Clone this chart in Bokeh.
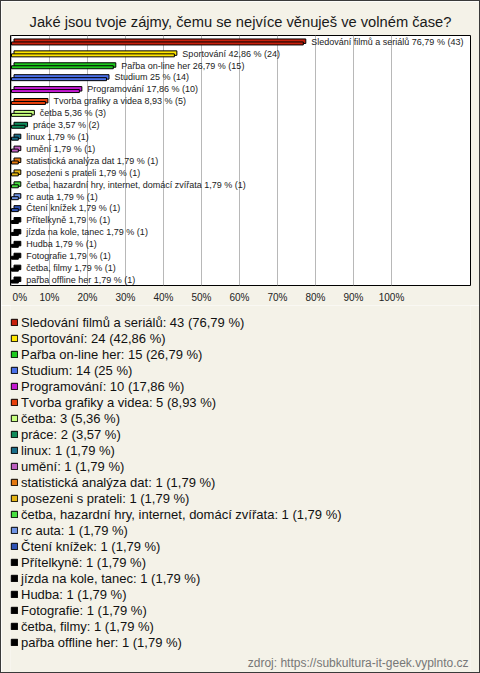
from bokeh.plotting import figure
from bokeh.layouts import column
from bokeh.models import (Range1d, FixedTicker, PrintfTickFormatter, ColumnDataSource,
                          Legend, LegendItem, Label)
from bokeh.core.properties import field, value
from bokeh.embed import file_html
from bokeh.resources import INLINE

# ---------------- data ----------------
title_text = "Jaké jsou tvoje zájmy, čemu se nejvíce věnuješ ve volném čase?"
names = ["Sledování filmů a seriálů", "Sportování", "Pařba on-line her", "Studium",
         "Programování", "Tvorba grafiky a videa", "četba", "práce", "linux", "umění",
         "statistická analýza dat", "posezeni s prateli",
         "četba, hazardní hry, internet, domácí zvířata", "rc auta", "Čtení knížek",
         "Přítelkyně", "jízda na kole, tanec", "Hudba", "Fotografie", "četba, filmy",
         "pařba offline her"]
counts = [43, 24, 15, 14, 10, 5, 3, 2, 1, 1, 1, 1, 1, 1, 1, 1, 1, 1, 1, 1, 1]
percents = [76.79, 42.86, 26.79, 25, 17.86, 8.93, 5.36, 3.57, 1.79, 1.79, 1.79, 1.79,
            1.79, 1.79, 1.79, 1.79, 1.79, 1.79, 1.79, 1.79, 1.79]
colors = ["#c8200c", "#ffe600", "#1ec81e", "#4a70e8", "#c41ad2", "#e8400c", "#c8ff80",
          "#108a5a", "#1a6e8a", "#be60c0", "#e47810", "#e4b414", "#48e040", "#7094e4",
          "#2e52b4", "#000000", "#000000", "#000000", "#000000", "#000000", "#000000"]
x_ticks = [0, 10, 20, 30, 40, 50, 60, 70, 80, 90, 100]
source_text = "zdroj: https://subkultura-it-geek.vyplnto.cz"

FONT = "Liberation Sans"
BG = "#f4f2e8"

# ---------------- geometry helpers ----------------
W, H = 478, 671                # inside a 1px outer border
TOP_H = 304
BOT_H = H - TOP_H
FRAME_L, FRAME_T = 9, 34
FRAME_W, FRAME_H = 460, 251
PXX = 3.8                      # pixels per percent
X0 = -1.0 / PXX
n = len(names)
PXY = FRAME_H / n              # pixels per category
dx = 2.5 / PXX
py = 1.0 / PXY

def fmt(v):
    return f"{v:g}".replace(".", ",")

idx = list(range(n))
src = ColumnDataSource(dict(
    y=idx,
    v=percents,
    color=colors,
    front_left=[0.0] * n,
    front_right=percents,
    front_top=[i + 0.5 * py for i in idx],
    front_bottom=[i + 3.5 * py for i in idx],
    back_left=[dx] * n,
    back_right=[v + dx for v in percents],
    back_top=[i - 2.5 * py for i in idx],
    back_bottom=[i + 2.0 * py for i in idx],
    label_x=[v + 8.0 / PXX for v in percents],
    label_y=[i + 0.3 * py for i in idx],
    bar_label=[f"{nm} {fmt(pc)} % ({c})" for nm, pc, c in zip(names, percents, counts)],
    legend=[f"{nm}: {c} ({fmt(pc)} %)" for nm, pc, c in zip(names, percents, counts)],
))

# ---------------- top figure: bars ----------------
p = figure(width=W, height=TOP_H, output_backend="svg", toolbar_location=None,
           x_range=Range1d(X0, X0 + FRAME_W / PXX), y_range=Range1d(n - 0.5, -0.5),
           y_axis_location=None,
           min_border_left=FRAME_L, min_border_right=W - FRAME_L - FRAME_W,
           min_border_top=FRAME_T, min_border_bottom=TOP_H - FRAME_T - FRAME_H,
           title=title_text)

p.background_fill_color = "white"
p.border_fill_color = BG
p.outline_line_color = "black"
p.outline_line_width = 1

p.title.text_font = FONT
p.title.text_font_size = "14.7px"
p.title.text_font_style = "normal"
p.title.text_color = "#1a1a1a"
p.title.align = "center"
p.title.standoff = 12

ax = p.xaxis[0]
ax.ticker = FixedTicker(ticks=x_ticks)
ax.formatter = PrintfTickFormatter(format="%d%%")
ax.major_label_overrides = {0: "\u00a0\u00a0\u00a0\u00a00%"}
ax.axis_line_color = None
ax.major_tick_line_color = None
ax.minor_tick_line_color = None
ax.major_tick_out = 0
ax.major_tick_in = 0
ax.major_label_standoff = 6
ax.major_label_text_font = FONT
ax.major_label_text_font_size = "10px"
ax.major_label_text_color = "#222222"

p.xgrid.ticker = FixedTicker(ticks=x_ticks)
p.xgrid.grid_line_color = "#b8b8b8"
p.ygrid.grid_line_color = None

p.quad(left="back_left", right="back_right", top="back_top", bottom="back_bottom",
       source=src, fill_color="color", line_color="black", line_width=1)
p.quad(left="front_left", right="front_right", top="front_top",
       bottom="front_bottom", source=src, fill_color="color",
       line_color="black", line_width=1)

p.text(x="label_x", y="label_y", text="bar_label", source=src,
       text_font=value(FONT), text_font_size="9px", text_color="#222222",
       text_baseline="middle", text_align="left")

# ---------------- bottom figure: legend + source ----------------
q = figure(width=W, height=BOT_H, output_backend="svg", toolbar_location=None,
           x_range=Range1d(-300, -200), y_range=Range1d(-300, -200),
           x_axis_location=None, y_axis_location=None, min_border=0,
           min_border_left=0, min_border_right=0, min_border_top=0, min_border_bottom=0)
q.background_fill_color = BG
q.border_fill_color = BG
q.outline_line_color = None
q.xgrid.visible = False
q.ygrid.visible = False

r_leg = q.quad(left="front_left", right="front_right", top="front_top",
               bottom="front_bottom", source=src, fill_color="color",
               line_color="black", line_width=1)

legend = Legend(items=[LegendItem(label=field("legend"), renderers=[r_leg])],
                location=(0, 22), orientation="vertical",
                glyph_width=8, glyph_height=8, label_standoff=3,
                label_height=16, spacing=0, padding=0, margin=0,
                label_text_font=FONT, label_text_font_size="13px",
                label_text_color="#111111",
                border_line_color=None, background_fill_alpha=0)
q.add_layout(legend, "center")

src_label = Label(x=458, y=10, x_units="screen", y_units="screen", text=source_text,
                  text_align="right", text_baseline="middle", text_font=FONT,
                  text_font_size="12px", text_color="#777777")
q.add_layout(src_label)

layout = column(p, q, spacing=0, styles={"border": "1px solid #3a3a3a"})
open("out.html", "w").write(file_html(layout, INLINE))
